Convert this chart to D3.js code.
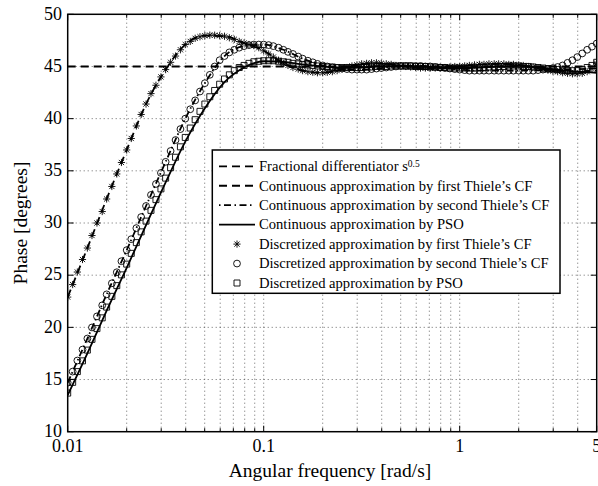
<!DOCTYPE html>
<html>
<head>
<meta charset="utf-8">
<style>
body { margin: 0; background: #fff; }
svg { display: block; font-family: 'Liberation Serif', 'Times New Roman', serif; }
.tick-label { font-size: 18px; fill: #000; }
.axis-label { font-size: 19.5px; fill: #000; }
.legend-text { font-size: 14.6px; fill: #000; }
</style>
</head>
<body>
<svg></svg>
<script src="https://d3js.org/d3.v7.min.js"></script>
<script>

// discretized approximations are sampled on a log frequency grid (rad/s)
const freqs = [
    0.0100, 0.0106, 0.0112, 0.0119, 0.0126, 0.0133, 0.0141, 0.0150, 0.0158, 0.0168,
    0.0178, 0.0188, 0.0200, 0.0211, 0.0224, 0.0237, 0.0251, 0.0266, 0.0282, 0.0299,
    0.0316, 0.0335, 0.0355, 0.0376, 0.0398, 0.0422, 0.0447, 0.0473, 0.0501, 0.0531,
    0.0562, 0.0596, 0.0631, 0.0668, 0.0708, 0.0750, 0.0794, 0.0841, 0.0891, 0.0944,
    0.100, 0.106, 0.112, 0.119, 0.126, 0.133, 0.141, 0.150, 0.158, 0.168,
    0.178, 0.188, 0.200, 0.211, 0.224, 0.237, 0.251, 0.266, 0.282, 0.299,
    0.316, 0.335, 0.355, 0.376, 0.398, 0.422, 0.447, 0.473, 0.501, 0.531,
    0.562, 0.596, 0.631, 0.668, 0.708, 0.750, 0.794, 0.841, 0.891, 0.944,
    1.00, 1.06, 1.12, 1.19, 1.26, 1.33, 1.41, 1.50, 1.58, 1.68,
    1.78, 1.88, 2.00, 2.11, 2.24, 2.37, 2.51, 2.66, 2.82, 2.99,
    3.16, 3.35, 3.55, 3.76, 3.98, 4.22, 4.47, 4.73, 5.00
];

const discThiele1 = [
    22.9, 24.1, 25.3, 26.5, 27.6, 28.8, 30.0, 31.1, 32.3, 33.5,
    34.7, 35.8, 37.0, 38.1, 39.3, 40.4, 41.4, 42.4, 43.2, 44.0,
    44.7, 45.4, 46.0, 46.6, 47.1, 47.4, 47.7, 47.85, 47.95, 48.0,
    48.0, 47.95, 47.9, 47.75, 47.6, 47.4, 47.25, 47.1, 47.0, 46.8,
    46.5, 46.2, 45.9, 45.6, 45.3, 45.1, 44.9, 44.75, 44.6, 44.5,
    44.45, 44.4, 44.4, 44.45, 44.5, 44.6, 44.75, 44.9, 45.05, 45.15,
    45.25, 45.3, 45.35, 45.35, 45.3, 45.25, 45.2, 45.1, 45.05, 45.0,
    44.95, 44.9, 44.85, 44.85, 44.85, 44.85, 44.85, 44.9, 44.95, 45.0,
    45.0, 45.05, 45.1, 45.15, 45.2, 45.2, 45.25, 45.25, 45.25, 45.25,
    45.2, 45.2, 45.15, 45.1, 45.0, 44.95, 44.85, 44.75, 44.65, 44.55,
    44.5, 44.4, 44.35, 44.3, 44.3, 44.35, 44.5, 44.8, 45.3
];

const discThiele2 = [
    14.7, 15.76, 16.82, 17.87, 18.93, 19.99, 21.05, 22.11, 23.16, 24.22,
    25.28, 26.34, 27.4, 28.45, 29.51, 30.57, 31.63, 32.69, 33.74, 34.8,
    35.86, 36.9, 37.95, 39.0, 40.0, 40.9, 41.75, 42.6, 43.4, 44.2,
    45.0, 45.6, 46.0, 46.35, 46.6, 46.8, 46.95, 47.05, 47.1, 47.1,
    47.1, 47.05, 46.95, 46.8, 46.6, 46.4, 46.2, 45.95, 45.75, 45.55,
    45.4, 45.25, 45.1, 45.0, 44.9, 44.85, 44.8, 44.75, 44.7, 44.7,
    44.7, 44.7, 44.75, 44.8, 44.85, 44.9, 44.95, 45.0, 45.05, 45.05,
    45.05, 45.05, 45.05, 45.0, 45.0, 44.95, 44.9, 44.85, 44.8, 44.75,
    44.7, 44.65, 44.6, 44.6, 44.6, 44.6, 44.6, 44.6, 44.6, 44.6,
    44.6, 44.6, 44.6, 44.6, 44.6, 44.6, 44.65, 44.7, 44.75, 44.85,
    44.95, 45.1, 45.35, 45.6, 45.9, 46.25, 46.6, 46.9, 47.2
];

const discPSO = [
    13.7, 14.73, 15.76, 16.79, 17.82, 18.85, 19.88, 20.91, 21.94, 22.97,
    24.0, 25.03, 26.06, 27.09, 28.12, 29.15, 30.18, 31.21, 32.24, 33.27,
    34.3, 35.3, 36.3, 37.3, 38.2, 39.1, 39.9, 40.7, 41.4, 42.1,
    42.7, 43.3, 43.8, 44.2, 44.6, 44.9, 45.1, 45.3, 45.45, 45.5,
    45.55, 45.55, 45.55, 45.5, 45.45, 45.4, 45.3, 45.25, 45.2, 45.15,
    45.1, 45.05, 45.0, 44.95, 44.95, 44.9, 44.9, 44.9, 44.9, 44.9,
    44.9, 44.95, 44.95, 45.0, 45.0, 45.0, 45.05, 45.05, 45.05, 45.05,
    45.05, 45.0, 45.0, 45.0, 44.95, 44.95, 44.9, 44.9, 44.85, 44.85,
    44.85, 44.85, 44.85, 44.85, 44.9, 44.9, 44.95, 44.95, 45.0, 45.0,
    45.05, 45.05, 45.05, 45.0, 45.0, 44.95, 44.9, 44.85, 44.8, 44.75,
    44.7, 44.65, 44.6, 44.6, 44.6, 44.7, 44.9, 45.1, 45.4
];

// continuous approximations, coarser grid
const contFreqs = [
    0.01, 0.0126, 0.0158, 0.02, 0.0251, 0.0316, 0.0398, 0.0501, 0.0631, 0.0794,
    0.1, 0.126, 0.158, 0.2, 0.251, 0.316, 0.398, 0.501, 0.631, 0.794,
    1, 1.26, 1.58, 2, 2.51, 3.16, 3.98, 5
];
const contThiele1 = [
    22.9, 27.6, 32.3, 37.0, 41.4, 44.7, 47.1, 47.95, 47.9, 47.25,
    46.5, 45.3, 44.6, 44.4, 44.75, 45.25, 45.3, 45.05, 44.85, 44.85,
    45.0, 45.2, 45.25, 45.15, 44.85, 44.6, 44.5, 44.6
];
const contThiele2 = [
    14.7, 18.93, 23.16, 27.4, 31.63, 35.86, 40.0, 43.4, 46.0, 46.95,
    47.1, 46.6, 45.75, 45.1, 44.8, 44.7, 44.85, 45.05, 45.05, 44.9,
    44.7, 44.6, 44.6, 44.6, 44.65, 44.7, 44.75, 44.8
];
const contPSO = [
    13.5, 17.5, 21.6, 25.7, 29.8, 33.9, 37.8, 41.0, 43.5, 44.9,
    45.5, 45.45, 45.2, 45.0, 44.9, 44.9, 45.0, 45.05, 45.0, 44.9,
    44.85, 44.9, 45.0, 45.05, 44.9, 44.7, 44.5, 44.4
];
const idealPhase = 45;

const xTicks = [0.01, 0.1, 1, 5];
const xTickLabels = ['0.01', '0.1', '1', '5'];
const xMinor = [0.02, 0.03, 0.04, 0.05, 0.06, 0.07, 0.08, 0.09,
    0.2, 0.3, 0.4, 0.5, 0.6, 0.7, 0.8, 0.9, 2, 3, 4];
const yTicks = [10, 15, 20, 25, 30, 35, 40, 45, 50];

const legendLabels = [
    'Fractional differentiator s',
    'Continuous approximation by first Thiele\u2019s CF',
    'Continuous approximation by second Thiele\u2019s CF',
    'Continuous approximation by PSO',
    'Discretized approximation by first Thiele\u2019s CF',
    'Discretized approximation by second Thiele\u2019s CF',
    'Discretized approximation by PSO'
];

const W = 598, H = 486;
const margin = {top: 14.3, right: 1.3, bottom: 54.3, left: 67.7};

const svg = d3.select('svg')
    .attr('width', W)
    .attr('height', H);

const x = d3.scaleLog()
    .domain([0.01, 5])
    .range([margin.left, W - margin.right]);

const y = d3.scaleLinear()
    .domain([10, 50])
    .range([H - margin.bottom, margin.top]);

const x0 = x.range()[0], x1 = x.range()[1];
const y0 = y.range()[0], y1 = y.range()[1];

// grid
const grid = svg.append('g')
    .attr('stroke', '#444')
    .attr('stroke-width', 0.8)
    .attr('stroke-dasharray', '1,3');

grid.selectAll('.vgrid').data(xTicks.slice(1, 3).concat(xMinor))
    .enter().append('line')
        .attr('x1', d => x(d)).attr('x2', d => x(d))
        .attr('y1', y0).attr('y2', y1);

grid.selectAll('.hgrid').data(yTicks.slice(1, -1))
    .enter().append('line')
        .attr('x1', x0).attr('x2', x1)
        .attr('y1', d => y(d)).attr('y2', d => y(d));

// continuous lines
const clip = svg.append('defs').append('clipPath').attr('id', 'plot-clip')
    .append('rect')
    .attr('x', x0).attr('y', y1)
    .attr('width', x1 - x0).attr('height', y0 - y1);

const plot = svg.append('g').attr('clip-path', 'url(#plot-clip)');

const line = d3.line()
    .x(d => x(d[0]))
    .y(d => y(d[1]))
    .curve(d3.curveMonotoneX);

plot.append('line')
    .attr('x1', x0).attr('x2', x1)
    .attr('y1', y(idealPhase)).attr('y2', y(idealPhase))
    .attr('stroke', '#000')
    .attr('stroke-width', 1.8)
    .attr('stroke-dasharray', '8,5');

const contSeries = [
    {values: contThiele1, dash: '8,5'},
    {values: contThiele2, dash: '7,3,1.5,3'},
    {values: contPSO, dash: null}
];

contSeries.forEach(s => {
    plot.append('path')
        .datum(contFreqs.map((f, i) => [f, s.values[i]]))
        .attr('fill', 'none')
        .attr('stroke', '#000')
        .attr('stroke-width', 1.8)
        .attr('stroke-dasharray', s.dash)
        .attr('d', line);
});

// markers
function starPath(s) {
    const d = s * 0.72;
    return `M${-s},0L${s},0M0,${-s}L0,${s}M${-d},${-d}L${d},${d}M${-d},${d}L${d},${-d}`;
}
function squarePath(s) {
    return `M${-s},${-s}L${s},${-s}L${s},${s}L${-s},${s}Z`;
}

const markerSeries = [
    {values: discThiele1, kind: 'star'},
    {values: discThiele2, kind: 'circle'},
    {values: discPSO, kind: 'square'}
];

function drawMarker(g, kind) {
    if (kind === 'circle') {
        g.append('circle').attr('r', 3.4);
    } else if (kind === 'star') {
        g.append('path').attr('d', starPath(3.6));
    } else {
        g.append('path').attr('d', squarePath(3));
    }
}

markerSeries.forEach(s => {
    const g = plot.append('g')
        .attr('fill', 'none')
        .attr('stroke', '#000')
        .attr('stroke-width', 0.9);
    freqs.forEach((f, i) => {
        const m = g.append('g')
            .attr('transform', `translate(${x(f)},${y(s.values[i])})`);
        drawMarker(m, s.kind);
    });
});

// axes box and inward ticks
const axes = svg.append('g')
    .attr('stroke', '#000')
    .attr('fill', 'none');

axes.append('rect')
    .attr('x', x0).attr('y', y1)
    .attr('width', x1 - x0).attr('height', y0 - y1)
    .attr('stroke-width', 1.5);

const majorLen = 6, minorLen = 3.5;
xTicks.concat(xMinor).forEach(d => {
    const len = xTicks.includes(d) ? majorLen : minorLen;
    axes.append('line').attr('x1', x(d)).attr('x2', x(d))
        .attr('y1', y0).attr('y2', y0 - len).attr('stroke-width', 1);
    axes.append('line').attr('x1', x(d)).attr('x2', x(d))
        .attr('y1', y1).attr('y2', y1 + len).attr('stroke-width', 1);
});
yTicks.forEach(d => {
    axes.append('line').attr('x1', x0).attr('x2', x0 + majorLen)
        .attr('y1', y(d)).attr('y2', y(d)).attr('stroke-width', 1);
    axes.append('line').attr('x1', x1).attr('x2', x1 - majorLen)
        .attr('y1', y(d)).attr('y2', y(d)).attr('stroke-width', 1);
});

// tick labels
svg.append('g').selectAll('text').data(xTicks)
    .enter().append('text')
        .attr('class', 'tick-label')
        .attr('x', d => x(d))
        .attr('y', 452)
        .attr('text-anchor', 'middle')
        .text((d, i) => xTickLabels[i]);

svg.append('g').selectAll('text').data(yTicks)
    .enter().append('text')
        .attr('class', 'tick-label')
        .attr('x', 62)
        .attr('y', d => y(d) - 1)
        .attr('dy', '0.35em')
        .attr('text-anchor', 'end')
        .text(d => d);

svg.append('text')
    .attr('class', 'axis-label')
    .attr('x', 330)
    .attr('y', 477)
    .attr('text-anchor', 'middle')
    .text('Angular frequency [rad/s]');

svg.append('text')
    .attr('class', 'axis-label')
    .attr('transform', `translate(27,${(y0 + y1) / 2}) rotate(-90)`)
    .attr('text-anchor', 'middle')
    .text('Phase [degrees]');

// legend
const lg = svg.append('g');
lg.append('rect')
    .attr('x', 212.3).attr('y', 150)
    .attr('width', 347.7).attr('height', 143.3)
    .attr('fill', '#fff')
    .attr('stroke', '#000')
    .attr('stroke-width', 1.5);

const rowY = i => 166.3 + i * 19.45;
const legendDash = ['8,5', '8,5', '1.5,3.5,7,3.5', null];

legendLabels.forEach((label, i) => {
    const cy = rowY(i);
    if (i < 4) {
        lg.append('line')
            .attr('x1', 219).attr('x2', 255)
            .attr('y1', cy).attr('y2', cy)
            .attr('stroke', '#000')
            .attr('stroke-width', 1.8)
            .attr('stroke-dasharray', legendDash[i]);
    } else {
        const m = lg.append('g')
            .attr('transform', `translate(237,${cy})`)
            .attr('fill', 'none')
            .attr('stroke', '#000')
            .attr('stroke-width', 0.9);
        drawMarker(m, markerSeries[i - 4].kind);
    }
    const t = lg.append('text')
        .attr('class', 'legend-text')
        .attr('x', 259)
        .attr('y', cy)
        .attr('dy', '0.33em')
        .text(label);
    if (i === 0) {
        t.append('tspan')
            .attr('dy', '-0.45em')
            .style('font-size', '9.5px')
            .text('0.5');
    }
});

</script>
</body>
</html>
